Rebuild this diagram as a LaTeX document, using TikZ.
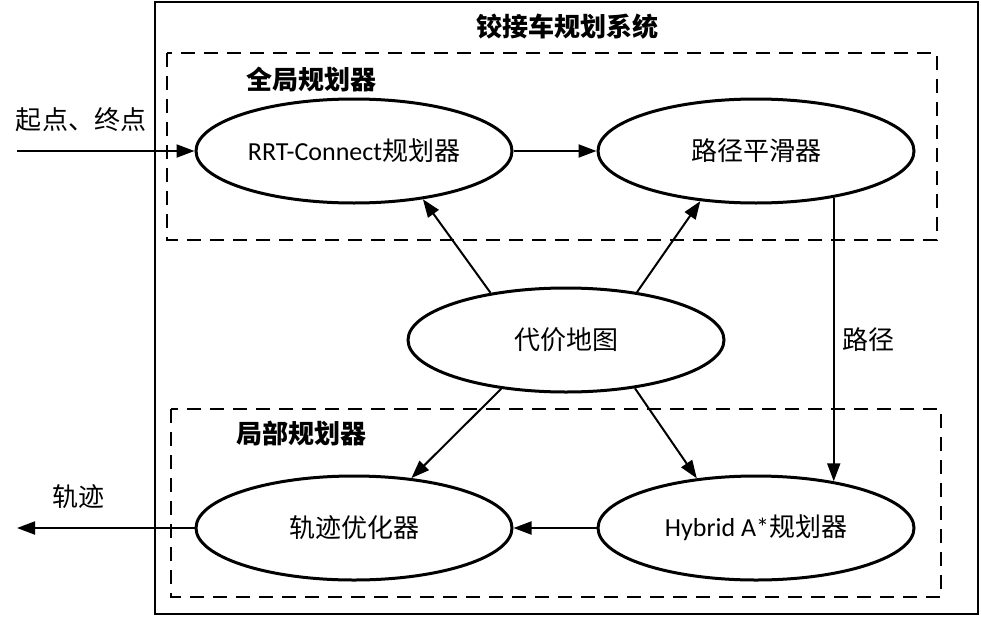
\documentclass[tikz,border=0pt]{standalone}
\usepackage{fontspec}
\setmainfont{Carlito}
\newfontfamily\cjk{Noto Sans CJK SC}
\usetikzlibrary{positioning,arrows.meta,shapes.geometric}
\tikzset{
  planner/.style={ellipse, draw, line width=3pt, minimum width=316pt, minimum height=104pt,
                  inner sep=0pt, font=\fontsize{26}{30}\selectfont},
  fwd/.style={-{Triangle[length=18pt,width=13pt]}, line width=2pt},
  groupbox/.style={draw, line width=2pt, dash pattern=on 14pt off 9pt},
  heading/.style={font=\fontsize{26}{30}\selectfont\cjk\bfseries},
  lbl/.style={font=\fontsize{26}{30}\selectfont\cjk},
}

\begin{document}
\begin{tikzpicture}[x=1pt,y=-1pt]
  \useasboundingbox (0,0) rectangle (981,618);

  % system frame and the two planner groups
  \draw[line width=2pt] (155,2) rectangle (978,614);
  \draw[groupbox] (167,53) rectangle (937,240);
  \draw[groupbox] (171,409) rectangle (941,597);
  \node[heading] (sys) at (567,27) {铰接车规划系统};
  \node[heading, anchor=west] (global) at (243,80) {全局规划器};
  \node[heading, anchor=west] (local) at (233,433) {局部规划器};

  \node[planner] (rrt) at (354,151) {RRT-Connect{\cjk 规划器}};
  \node[planner] (smooth) at (756,151) {\cjk 路径平滑器};
  \node[planner] (costmap) at (566,340) {\cjk 代价地图};
  \node[planner] (trajopt) at (354,528) {\cjk 轨迹优化器};
  \node[planner] (hybrid) at (756,528) {Hybrid A*{\cjk 规划器}};

  \coordinate (in) at (17,151);
  \coordinate (out) at (17,528);
  \node[lbl] (inlbl) at (81,120) {起点、终点};
  \node[lbl] (outlbl) at (78,497) {轨迹};

  \draw[fwd] (in) -- (rrt);
  \draw[fwd] (rrt) -- (smooth);
  \draw[fwd] (costmap.148) -- (rrt.325);
  \draw[fwd] (costmap.34) -- (smooth.222);
  \draw[fwd] (costmap.217) -- (trajopt.41);
  \draw[fwd] (costmap.325) -- (hybrid.140);
  \draw[fwd] (smooth.-31) -- (hybrid.31) node[lbl, midway, right=4pt] {路径};
  \draw[fwd] (hybrid) -- (trajopt);
  \draw[fwd] (trajopt) -- (out);
\end{tikzpicture}
\end{document}
